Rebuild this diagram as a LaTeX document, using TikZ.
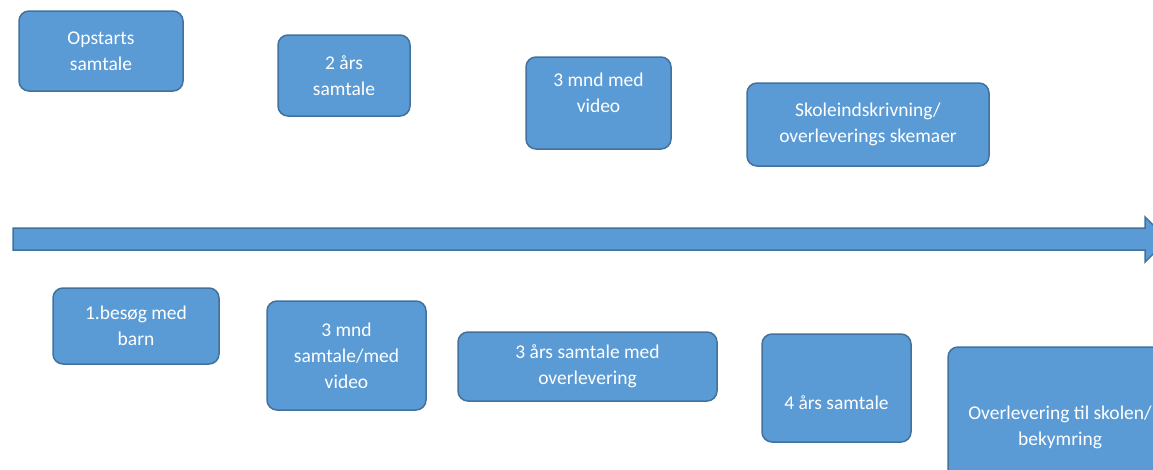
\documentclass[tikz,border=0pt]{standalone}
\usepackage{fontspec}
\setmainfont{Carlito}
\usepackage{tikz}
\definecolor{fasefyld}{RGB}{91,155,213}
\definecolor{fasekant}{RGB}{65,113,156}

\begin{document}
\begin{tikzpicture}[x=1pt, y=-1pt,
    fase/.style={draw=fasekant, line width=1.5pt, fill=fasefyld, rounded corners=10pt,
        text=white, align=center, inner sep=0pt, font=\fontsize{19.5}{26}\selectfont}]
    \useasboundingbox (0,0) rectangle (1153,469);
    \clip (0,0) rectangle (1153,469);
    % tidslinje
    \draw[draw=fasekant, line width=1.5pt, fill=fasefyld] (13,228) -- (1145,228) -- (1145,217) -- (1168,239.5) -- (1145,262) -- (1145,250) -- (13,250) -- cycle;
    % over linjen
    \node[fase, minimum width=164pt, minimum height=80pt] (opstart) at (101,51) {Opstarts\\samtale};
    \node[fase, minimum width=132pt, minimum height=81pt] (toaar) at (344,75.5) {2 års\\samtale};
    \node[fase, minimum width=145pt, minimum height=92pt, text depth=20pt] (tremnd) at (598.5,103) {3 mnd med\\video};
    \node[fase, minimum width=242pt, minimum height=83pt] (skole) at (868,124.5) {Skoleindskrivning/\\overleverings skemaer};
    % under linjen
    \node[fase, minimum width=166pt, minimum height=76pt] (besoeg) at (136,326) {1.besøg med\\barn};
    \node[fase, minimum width=159pt, minimum height=109pt] (tremndsamtale) at (346.5,355.5) {3 mnd\\samtale/med\\video};
    \node[fase, minimum width=259pt, minimum height=69pt] (treaar) at (587.5,366.5) {3 års samtale med\\overlevering};
    \node[fase, minimum width=149pt, minimum height=108pt, text height=46pt, text depth=4pt] (fireaar) at (836.5,388) {4 års samtale};
    \node[fase, minimum width=224pt, minimum height=160pt] (overlevering) at (1060,427) {Overlevering til skolen/\\bekymring};
\end{tikzpicture}
\end{document}
